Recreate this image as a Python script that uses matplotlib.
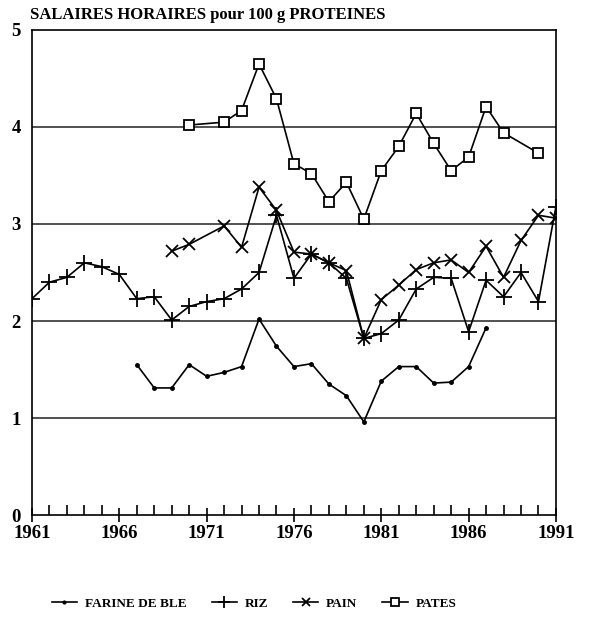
import matplotlib
matplotlib.use("Agg")
import matplotlib.pyplot as plt
import numpy as np

# ---- data ----
farine_years = [1967, 1968, 1969, 1970, 1971, 1972, 1973, 1974, 1975, 1976, 1977,
                1978, 1979, 1980, 1981, 1982, 1983, 1984, 1985, 1986, 1987]
farine = [1.55, 1.31, 1.31, 1.55, 1.43, 1.47, 1.53, 2.02, 1.74, 1.53, 1.56,
          1.35, 1.23, 0.96, 1.38, 1.53, 1.53, 1.36, 1.37, 1.53, 1.93]

riz_years = list(range(1961, 1992))
riz = [2.23, 2.40, 2.45, 2.60, 2.56, 2.48, 2.23, 2.25, 2.01, 2.15, 2.20,
       2.23, 2.33, 2.50, 3.09, 2.44, 2.69, 2.60, 2.44, 1.82, 1.87,
       2.01, 2.33, 2.45, 2.44, 1.89, 2.42, 2.25, 2.50, 2.20, 3.18]

pain_years = [1969, 1970, 1972, 1973, 1974, 1975, 1976, 1977, 1978, 1979, 1980,
              1981, 1982, 1983, 1984, 1985, 1986, 1987, 1988, 1989, 1990, 1991]
pain = [2.72, 2.79, 2.98, 2.76, 3.38, 3.14, 2.71, 2.69, 2.60, 2.52, 1.82,
        2.22, 2.37, 2.53, 2.60, 2.63, 2.50, 2.77, 2.45, 2.83, 3.09, 3.06]

pates_years = [1970, 1972, 1973, 1974, 1975, 1976, 1977, 1978, 1979, 1980,
               1981, 1982, 1983, 1984, 1985, 1986, 1987, 1988, 1990]
pates = [4.02, 4.05, 4.17, 4.65, 4.29, 3.62, 3.52, 3.23, 3.43, 3.05,
         3.55, 3.80, 4.14, 3.83, 3.55, 3.69, 4.21, 3.94, 3.73]

xticks = [1961, 1966, 1971, 1976, 1981, 1986, 1991]
yticks = [0, 1, 2, 3, 4, 5]

plt.rcParams['font.family'] = ['Liberation Serif', 'DejaVu Serif']
plt.rcParams['font.weight'] = 'bold'

fig = plt.figure(figsize=(5.91, 6.17), dpi=100)
ax = fig.add_axes([0.0541, 0.1653, 0.8866, 0.7861])

for y in [1, 2, 3, 4]:
    ax.axhline(y, color='#333333', lw=1.2, zorder=1)

ax.plot(farine_years, farine, color='black', lw=1.2, marker='o', ms=2.5, label='FARINE DE BLE')
ax.plot(riz_years, riz, color='black', lw=1.2, marker='+', ms=11, mew=1.3, label='RIZ')
ax.plot(pain_years, pain, color='black', lw=1.2, marker='x', ms=8, mew=1.3, label='PAIN')
ax.plot(pates_years, pates, color='black', lw=1.2, marker='s', ms=7, mew=1.3,
        mfc='white', label='PATES')

ax.set_xlim(1961, 1991)
ax.set_ylim(0, 5)
ax.set_xticks(xticks)
ax.set_xticks(range(1961, 1992), minor=True)
ax.set_yticks(yticks)
ax.tick_params(axis='x', which='major', direction='inout', length=10, width=1.2,
               labelsize=13.5, pad=2)
ax.tick_params(axis='x', which='minor', direction='in', length=7, width=1.2)
ax.tick_params(axis='y', length=0, labelsize=13.5, pad=8)
for sp in ax.spines.values():
    sp.set_linewidth(1.2)

fig.text(0.05, 0.975, 'SALAIRES HORAIRES pour 100 g PROTEINES', fontsize=12,
         fontweight='bold', va='center', ha='left')

fig.legend(loc='lower center', bbox_to_anchor=(0.43, -0.008), ncol=4, frameon=False,
           fontsize=9.5, handlelength=1.9, handletextpad=0.6, columnspacing=1.9,
           markerscale=0.8)

fig.savefig('out.png', dpi=100)
